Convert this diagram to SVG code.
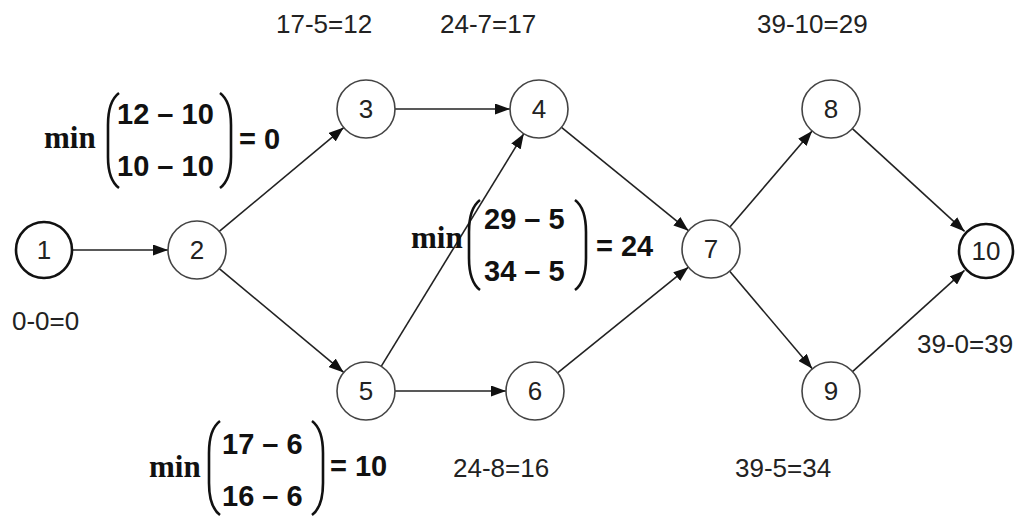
<svg xmlns="http://www.w3.org/2000/svg" width="1025" height="519" viewBox="0 0 1025 519">
<defs>
<marker id="ah" markerUnits="userSpaceOnUse" markerWidth="15" markerHeight="11" refX="15" refY="5.5" orient="auto">
<path d="M0,0 L15,5.5 L0,11 z" fill="#111"/>
</marker>
<style>
.n{fill:#fff;stroke:#444;stroke-width:1.6}
.nt{fill:#fff;stroke:#111;stroke-width:2.6}
.lb{font-family:"Liberation Sans",Arial,sans-serif;font-size:26px;fill:#222;text-anchor:middle}
.lab{font-family:"Liberation Sans",Arial,sans-serif;font-size:26px;fill:#222}
.e{stroke:#222;stroke-width:1.6;fill:none;marker-end:url(#ah)}
.mn{font-family:"Liberation Serif","Times New Roman",serif;font-weight:bold;font-size:31px;fill:#111}
.fm{font-family:"Liberation Sans",Arial,sans-serif;font-weight:bold;font-size:29px;fill:#111}
.pr{fill:none;stroke:#111;stroke-width:2.6}
</style>
</defs>
<rect width="1025" height="519" fill="#fff"/>
<g id="connectors">
<line class="e" x1="73" y1="250" x2="168" y2="250"/>
<line class="e" x1="219.3" y1="231.4" x2="343.7" y2="127.6"/>
<line class="e" x1="219.3" y1="268.6" x2="343.7" y2="372.4"/>
<line class="e" x1="395" y1="109" x2="510" y2="109"/>
<line class="e" x1="381.2" y1="366.3" x2="523.8" y2="133.7"/>
<line class="e" x1="395" y1="391" x2="506" y2="391"/>
<line class="e" x1="561.5" y1="127.3" x2="688.5" y2="230.7"/>
<line class="e" x1="557.6" y1="372.8" x2="688.4" y2="267.2"/>
<line class="e" x1="729.9" y1="227" x2="812.1" y2="131"/>
<line class="e" x1="729.7" y1="271.2" x2="812.3" y2="368.8"/>
<line class="e" x1="852.4" y1="128.6" x2="964.6" y2="231.4"/>
<line class="e" x1="852.5" y1="371.6" x2="964.5" y2="270.4"/>
</g>
<g id="node1"><circle class="nt" cx="44" cy="250" r="28"/><text class="lb" x="44" y="259">1</text></g>
<g id="node2"><circle class="n" cx="197" cy="250" r="29"/><text class="lb" x="197" y="259">2</text></g>
<g id="node3"><circle class="n" cx="366" cy="109" r="29"/><text class="lb" x="366" y="118">3</text></g>
<g id="node4"><circle class="n" cx="539" cy="109" r="29"/><text class="lb" x="539" y="118">4</text></g>
<g id="node5"><circle class="n" cx="366" cy="391" r="29"/><text class="lb" x="366" y="400">5</text></g>
<g id="node6"><circle class="n" cx="535" cy="391" r="29"/><text class="lb" x="535" y="400">6</text></g>
<g id="node7"><circle class="n" cx="711" cy="249" r="29"/><text class="lb" x="711" y="258">7</text></g>
<g id="node8"><circle class="n" cx="831" cy="109" r="29"/><text class="lb" x="831" y="118">8</text></g>
<g id="node9"><circle class="n" cx="831" cy="391" r="29"/><text class="lb" x="831" y="400">9</text></g>
<g id="node10"><circle class="nt" cx="986" cy="251" r="27"/><text class="lb" x="986" y="260">10</text></g>
<g id="labels">
<text class="lab" x="276" y="33">17-5=12</text>
<text class="lab" x="440" y="33">24-7=17</text>
<text class="lab" x="757" y="33">39-10=29</text>
<text class="lab" x="12" y="330">0-0=0</text>
<text class="lab" x="917" y="353">39-0=39</text>
<text class="lab" x="453" y="477">24-8=16</text>
<text class="lab" x="735" y="477">39-5=34</text>
</g>
<g id="formula1">
<text class="mn" x="44" y="148">min</text>
<path class="pr" d="M119,93 C111,99 108,110 108,125 L108,157 C108,172 111,182 119,188"/>
<path class="pr" d="M220,93 C228,99 231,110 231,125 L231,157 C231,172 228,182 220,188"/>
<text class="fm" x="117" y="124">12 – 10</text>
<text class="fm" x="117" y="176">10 – 10</text>
<text class="fm" x="239" y="149">= 0</text>
</g>
<g id="formula2">
<text class="mn" x="411" y="248">min</text>
<path class="pr" d="M480,200 C472,206 469,217 469,232 L469,258 C469,273 472,284 480,290"/>
<path class="pr" d="M575,200 C583,206 586,217 586,232 L586,258 C586,273 583,284 575,290"/>
<text class="fm" x="484" y="229">29 – 5</text>
<text class="fm" x="484" y="281">34 – 5</text>
<text class="fm" x="596" y="256">= 24</text>
</g>
<g id="formula3">
<text class="mn" x="149" y="477">min</text>
<path class="pr" d="M220,421 C212,427 209,438 209,453 L209,483 C209,498 212,509 220,515"/>
<path class="pr" d="M312,421 C320,427 323,438 323,453 L323,483 C323,498 320,509 312,515"/>
<text class="fm" x="222" y="454">17 – 6</text>
<text class="fm" x="222" y="506">16 – 6</text>
<text class="fm" x="330" y="476">= 10</text>
</g>
</svg>
